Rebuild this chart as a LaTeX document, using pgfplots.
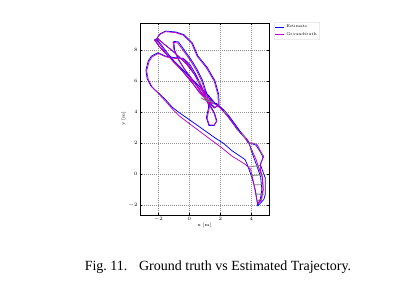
\documentclass[border=0pt]{standalone}
\usepackage{pgfplots}
\pgfplotsset{compat=1.18}
\usepackage{fontspec}
\newfontfamily\capfont{Liberation Serif}
\definecolor{estblue}{rgb}{0,0,1}
\definecolor{gtmag}{rgb}{0.75,0,0.75}
\begin{document}
\begin{tikzpicture}[x=1pt,y=1pt]
\path[use as bounding box] (0,0) rectangle (410,287);
\begin{axis}[
  at={(140pt,72pt)}, anchor=south west,
  scale only axis, width=129pt, height=192pt,
  xmin=-3.18, xmax=5.14, ymin=-2.65, ymax=9.74,
  xtick={-2,0,2,4}, ytick={-2,0,2,4,6,8},
  grid=major,
  major grid style={gray!85, dash pattern=on 1.2pt off 0.8pt, line width=0.35pt},
  axis line style={line width=0.7pt},
  tick style={line width=0.4pt, black},
  major tick length=2pt,
  tick label style={font=\fontsize{4.5}{5}\selectfont},
  label style={font=\fontsize{4.5}{5}\selectfont},
  xlabel={x [m]}, ylabel={y [m]},
  xlabel style={yshift=5pt},
  ylabel style={yshift=-4pt},
  xticklabel style={yshift=1pt},
  yticklabel style={xshift=1pt},
  unbounded coords=jump,
  legend style={at={(1.039,1.005)}, anchor=north west, font=\fontsize{4}{4.5}\selectfont,
    draw=gray!40, rounded corners=1pt, inner sep=1pt, row sep=-1pt},
  legend cell align=left,
  legend image post style={line width=0.5pt},
  legend image code/.code={\draw[#1] (0cm,0cm) -- (0.3cm,0cm);},
]
\addplot[estblue, line width=0.75pt] coordinates {
(4.40,-2.08) (4.80,-1.66) (4.90,-1.33) (4.90,-0.26) (4.58,0.60) (4.70,0.90) (4.75,1.10) (4.50,1.55) (4.30,1.85) (4.05,1.95) (3.80,1.98)
(3.60,2.35) (3.30,2.65) (3.00,3.00) (2.75,3.35) (2.45,3.75) (2.15,4.10) (1.75,4.48) (1.40,4.65) (1.05,4.85)
(0.65,5.25) (0.25,5.80) (-0.25,6.40) (-0.75,7.00) (-1.25,7.50) (-1.65,7.90) (-2.00,8.30) (-2.25,8.65) (-2.05,8.75) (-1.65,8.40) (-1.15,8.00) (-0.65,7.55) (-0.15,7.05) (0.35,6.40) (0.75,5.65) (1.00,5.05) (1.20,4.60)
(1.25,4.32) (1.10,3.62) (1.27,3.12) (1.60,3.12) (1.78,3.42) (1.63,3.92) (1.38,4.37) (1.05,4.85)
(0.65,5.45) (0.20,6.10) (-0.30,6.75) (-0.70,7.40) (-0.95,8.00) (-1.00,8.55) (-0.70,8.52) (-0.40,8.10) (0.10,7.40) (0.50,6.75) (0.85,6.05) (1.05,5.40) (1.25,4.90) (1.55,4.70)
(1.30,5.00) (0.85,5.45) (0.30,6.00) (-0.35,6.65) (-0.95,7.25) (-1.45,7.85) (-1.82,8.35) (-2.12,8.70) (-1.88,9.05) (-1.52,9.22) (-0.87,9.16) (-0.33,8.98) (0.20,8.45) (0.55,7.62) (1.15,6.88) (1.65,6.02) (1.90,5.12) (1.92,4.45) (1.65,4.28) (1.30,4.62)
(1.75,4.55) (2.20,4.15) (2.50,3.82) (2.90,3.28) (3.30,2.72) (3.60,2.38) (3.85,2.05) (4.00,1.50) (4.20,0.95) (4.40,0.40) (4.60,-0.20) (4.68,-1.00) (4.58,-1.62) (4.40,-1.98)
(4.27,-1.10) (4.05,-0.26) (3.74,0.60) (3.60,0.92)
(3.20,1.20) (2.75,1.50) (2.20,1.98) (1.70,2.30) (1.20,2.65) (0.60,3.08) (0.00,3.50) (-0.60,3.92) (-1.10,4.30) (-1.52,4.78) (-2.02,5.25) (-2.48,5.68) (-2.72,6.15) (-2.80,6.70) (-2.65,7.28) (-2.45,7.60) (-2.02,7.82) (-1.52,7.60) (-0.92,7.50) (-0.38,7.46) (0.05,7.05) (0.40,6.45) (0.75,5.75) (1.00,5.10) (1.12,4.80)
};
\addlegendentry{Estimate}
\addplot[gtmag, line width=0.75pt] coordinates {
(4.45,-1.90) (4.65,-1.70) (4.78,-1.00) (4.72,-0.20) (4.58,0.30) (4.62,0.75) (4.80,1.12) (4.55,1.55) (4.37,1.90) (4.10,1.98) (3.85,2.00)
(3.65,2.30) (3.35,2.60) (3.05,2.95) (2.80,3.30) (2.50,3.70) (2.20,4.05) (1.80,4.45) (1.45,4.60) (1.10,4.80)
(0.70,5.20) (0.30,5.75) (-0.20,6.35) (-0.70,6.95) (-1.20,7.45) (-1.60,7.85) (-1.95,8.25) (-2.20,8.60) (-2.00,8.70) (-1.60,8.35) (-1.10,7.95) (-0.60,7.50) (-0.10,7.00) (0.40,6.35) (0.80,5.60) (1.05,5.00) (1.25,4.55)
(1.30,4.30) (1.15,3.60) (1.30,3.15) (1.60,3.15) (1.75,3.40) (1.60,3.90) (1.35,4.35) (1.00,4.85)
(0.60,5.50) (0.15,6.15) (-0.35,6.80) (-0.75,7.45) (-1.00,8.05) (-1.05,8.50) (-0.75,8.45) (-0.45,8.05) (0.05,7.35) (0.45,6.70) (0.80,6.00) (1.00,5.35) (1.20,4.85) (1.50,4.65)
(1.25,4.95) (0.80,5.40) (0.25,5.95) (-0.40,6.60) (-1.00,7.20) (-1.50,7.80) (-1.85,8.30) (-2.15,8.65) (-1.90,9.00) (-1.55,9.18) (-0.90,9.12) (-0.38,8.95) (0.15,8.43) (0.50,7.60) (1.10,6.85) (1.60,6.00) (1.85,5.10) (1.87,4.45) (1.60,4.25) (1.25,4.60)
(1.70,4.50) (2.15,4.12) (2.45,3.80) (2.85,3.25) (3.25,2.70) (3.55,2.35) (3.82,2.02) (4.05,1.50) (4.30,0.95) (4.48,0.40) (4.70,-0.20) (4.75,-1.00) (4.62,-1.65) (4.42,-1.92)
(4.32,-1.50) (4.22,-0.90) (4.10,-0.35) (3.95,0.30) (3.63,0.60)
(3.20,0.88) (2.75,1.15) (2.20,1.60) (1.70,1.98) (1.20,2.35) (0.60,2.80) (0.00,3.25) (-0.60,3.70) (-1.05,4.15) (-1.45,4.60) (-1.95,5.15) (-2.40,5.60) (-2.65,6.10) (-2.75,6.65) (-2.60,7.25) (-2.40,7.55) (-2.00,7.78) (-1.50,7.55) (-0.90,7.45) (-0.40,7.42) (0.00,7.00) (0.35,6.40) (0.70,5.70) (0.95,5.05) (1.10,4.75)
};
\addlegendentry{Groundtruth}
\addplot[gray, line width=0.9pt, forget plot] coordinates {
(0.75,4.90) (1.05,4.75) (1.45,4.65) (1.55,4.50) (nan,nan)
(0.95,4.95) (1.25,4.80) (nan,nan)
(0.55,6.05) (0.75,5.80) (nan,nan)
(2.25,4.05) (2.45,3.85) (nan,nan)
(3.00,2.95) (3.15,2.80) (nan,nan)
(3.40,2.60) (3.65,2.30) (nan,nan)
(3.80,2.00) (4.15,1.98) (nan,nan)
(3.90,1.60) (4.10,1.50) (nan,nan)
(4.60,1.40) (4.80,1.15) (nan,nan)
(3.85,0.45) (4.55,0.55) (nan,nan)
(4.00,-0.10) (4.75,-0.05) (nan,nan)
(4.15,-0.70) (4.80,-0.70) (nan,nan)
(4.28,-1.30) (4.82,-1.30) (nan,nan)
(4.38,-1.75) (4.70,-1.60)
};
\end{axis}
\node[anchor=base, font=\capfont\fontsize{14}{17}\selectfont] at (218,17) {Fig.~11.\hspace{0.5em} Ground truth vs Estimated Trajectory.};
\end{tikzpicture}
\end{document}
